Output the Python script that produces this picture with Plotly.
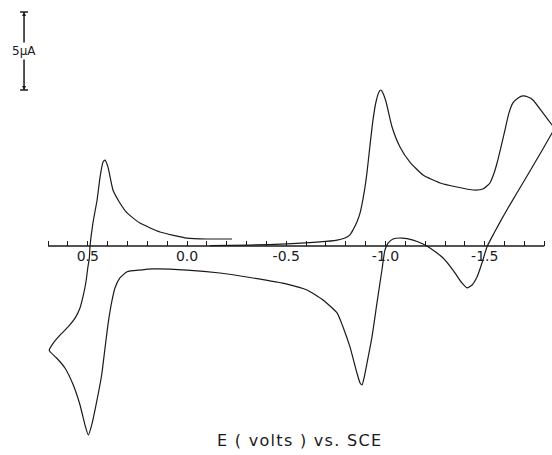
import plotly.graph_objects as go

# Cyclic voltammogram: potential (V vs. SCE) and current (uA), cathodic current positive
potential_V = [
    -0.116, -0.317, -0.504, -0.670, -0.756, -0.796, -0.821, -0.836, -0.856, -0.872,
    -0.892, -0.907, -0.922, -0.937, -0.952, -0.967, -0.977, -0.987, -1.003, -1.033,
    -1.073, -1.123, -1.189, -1.275, -1.360, -1.441, -1.491, -1.526, -1.547, -1.562,
    -1.582, -1.602, -1.622, -1.642, -1.668, -1.693, -1.718, -1.743, -1.793, -1.839,
    -1.851,
    -1.839, -1.793, -1.728, -1.662, -1.597, -1.547, -1.511, -1.486, -1.461, -1.436,
    -1.411, -1.385, -1.340, -1.290, -1.224, -1.189, -1.139, -1.083, -1.038, -1.013,
    -0.997, -0.982, -0.957, -0.932, -0.907, -0.892, -0.882, -0.872, -0.856, -0.821,
    -0.786, -0.756, -0.685, -0.605, -0.504, -0.332, -0.166, 0.000, 0.171, 0.237,
    0.302, 0.338, 0.363, 0.379, 0.396, 0.413, 0.430, 0.455, 0.480, 0.497,
    0.514, 0.539, 0.573, 0.615, 0.657, 0.690, 0.694,
    0.674, 0.640, 0.598, 0.564, 0.539, 0.522, 0.509, 0.500, 0.492, 0.489,
    0.474, 0.453, 0.438, 0.423, 0.413, 0.398, 0.373, 0.338, 0.302, 0.237,
    0.136, 0.000, -0.101, -0.227,
]
current_uA = [
    0.03, 0.06, 0.13, 0.26, 0.38, 0.51, 0.71, 1.03, 1.54, 2.12,
    3.40, 4.74, 6.47, 8.08, 9.23, 9.87, 10.00, 9.81, 9.23, 7.63,
    6.35, 5.38, 4.55, 4.04, 3.78, 3.59, 3.65, 4.04, 4.68, 5.32,
    6.35, 7.44, 8.53, 9.17, 9.49, 9.62, 9.55, 9.36, 8.53, 7.76,
    7.54,
    7.24, 6.22, 4.81, 3.40, 1.99, 0.83, -0.06, -1.09, -1.99, -2.50,
    -2.69, -2.37, -1.54, -0.77, -0.13, 0.13, 0.38, 0.51, 0.45, 0.19,
    -0.26, -1.54, -3.65, -5.83, -7.50, -8.46, -8.91, -8.78, -8.14, -6.47,
    -5.19, -4.29, -3.46, -2.82, -2.44, -2.05, -1.73, -1.54, -1.47, -1.54,
    -1.65, -2.05, -2.69, -3.57, -4.85, -6.54, -8.27, -9.98, -11.47, -12.12,
    -11.47, -10.19, -8.91, -7.82, -7.18, -6.78, -6.67,
    -6.22, -5.71, -5.17, -4.62, -3.97, -3.14, -2.29, -1.41, -0.77, -0.06,
    1.47, 2.95, 4.42, 5.38, 5.51, 5.06, 3.59, 2.76, 2.12, 1.47,
    0.90, 0.51, 0.45, 0.45,
]

tick_values = [round(0.7 - 0.1 * i, 1) for i in range(26)]  # 0.7 .. -1.8
label_values = [0.5, 0.0, -0.5, -1.0, -1.5]
label_texts = ["0.5", "0.0", "-0.5", "-1.0", "-1.5"]
axis_start, axis_end = 0.7, -1.8

scale_bar_uA = 5.0
scale_bar_top_uA = 15.0
scale_bar_x_V = 0.821
scale_label = "5\u03bcA"
x_title = "E ( volts ) vs. SCE"

W, H = 552, 455
x_range = [0.9421, -1.8388]
y_range = [-13.397, 15.769]
axis_pos = (0 - y_range[0]) / (y_range[1] - y_range[0])

ink = "#1a1a1a"
font_family = "DejaVu Sans, Verdana, sans-serif"

fig = go.Figure()
fig.add_trace(go.Scatter(
    x=potential_V, y=current_uA, mode="lines",
    line=dict(color=ink, width=1.2, shape="spline", smoothing=0.5),
    hoverinfo="skip", showlegend=False,
))

ticktext = []
for v in tick_values:
    txt = ""
    for lv, lt in zip(label_values, label_texts):
        if abs(v - lv) < 1e-6:
            txt = lt
    ticktext.append(txt)

fig.update_layout(
    width=W, height=H,
    margin=dict(l=0, r=0, t=0, b=0),
    paper_bgcolor="white", plot_bgcolor="white",
    showlegend=False,
    font=dict(family=font_family, color=ink),
    xaxis=dict(
        range=x_range, showgrid=False, zeroline=False, showline=False,
        anchor="free", position=axis_pos,
        tickmode="array", tickvals=tick_values, ticktext=ticktext,
        ticks="inside", ticklen=5, tickwidth=1, tickcolor=ink,
        tickfont=dict(size=14, color=ink, family=font_family),
    ),
    yaxis=dict(range=y_range, visible=False, showgrid=False, zeroline=False),
)

# axis baseline
fig.add_shape(type="line", x0=axis_start, x1=axis_end, y0=0, y1=0,
              line=dict(color=ink, width=1.6))

# scale bar
sb_bot = scale_bar_top_uA - scale_bar_uA
cap = 0.02
fig.add_shape(type="line", x0=scale_bar_x_V, x1=scale_bar_x_V,
              y0=sb_bot, y1=scale_bar_top_uA, line=dict(color=ink, width=1))
for yy in (sb_bot, scale_bar_top_uA):
    fig.add_shape(type="line", x0=scale_bar_x_V - cap, x1=scale_bar_x_V + cap,
                  y0=yy, y1=yy, line=dict(color=ink, width=1.5))
mid = (sb_bot + scale_bar_top_uA) / 2
for yy in (sb_bot, scale_bar_top_uA):
    fig.add_annotation(x=scale_bar_x_V, y=yy, ax=scale_bar_x_V,
                       ay=mid, axref="x", ayref="y", xref="x", yref="y",
                       text="", showarrow=True, arrowhead=2, arrowsize=0.8,
                       arrowwidth=1, arrowcolor=ink)
fig.add_annotation(x=scale_bar_x_V, y=mid, text=scale_label, showarrow=False,
                   xref="x", yref="y", bgcolor="white",
                   font=dict(size=12, color=ink, family=font_family), borderpad=1)

fig.add_annotation(x=0.5426, y=0.031, xref="paper", yref="paper",
                   xanchor="center", yanchor="middle",
                   text='<span style="letter-spacing:1.3px">' + x_title + "</span>",
                   showarrow=False,
                   font=dict(size=16, color=ink, family=font_family))

fig.write_html(
    "out.html",
    config={"displayModeBar": False},
    post_script="document.body.style.margin='0';document.body.style.overflow='hidden';",
)
